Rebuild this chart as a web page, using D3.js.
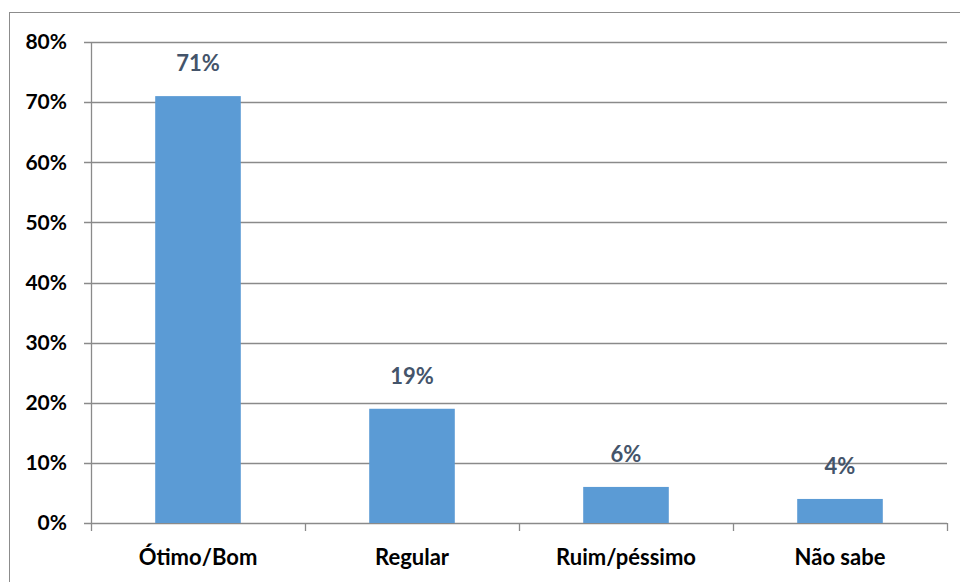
<!DOCTYPE html>
<html><head><meta charset="utf-8">
<script src="https://cdn.jsdelivr.net/npm/d3@7"></script>
<style>body{margin:0;background:#fff}svg{display:block}text{font-family:Lato,"Open Sans",sans-serif;font-weight:bold}</style>
</head><body>
<svg id="c" width="960" height="582"></svg>
<script>
const categories = ["Ótimo/Bom", "Regular", "Ruim/péssimo", "Não sabe"];
const values = [71, 19, 6, 4];
const yTicks = [0, 10, 20, 30, 40, 50, 60, 70, 80];

const svg = d3.select("#c");
svg.append("rect").attr("x", 9.5).attr("y", 12.5).attr("width", 960).attr("height", 600)
  .attr("fill", "#fff").attr("stroke", "#8c8c8c").attr("stroke-width", 1);

const m = {l: 91, r: 947, t: 42, b: 523};
const x = d3.scaleBand().domain(categories).range([m.l, m.r]).paddingInner(0.6).paddingOuter(0.3);
const y = d3.scaleLinear().domain([0, 80]).range([m.b, m.t]);

const g = svg.append("g");
g.selectAll("line.grid").data(yTicks).join("line")
  .attr("x1", m.l - 7).attr("x2", m.r)
  .attr("y1", d => Math.round(y(d)) + 0.5).attr("y2", d => Math.round(y(d)) + 0.5)
  .attr("stroke", "#8a8a8a").attr("stroke-width", 1.3);
g.append("line").attr("x1", m.l + 0.5).attr("x2", m.l + 0.5).attr("y1", m.t).attr("y2", m.b)
  .attr("stroke", "#8a8a8a").attr("stroke-width", 1.3);
g.selectAll("text.yl").data(yTicks).join("text")
  .attr("x", 67).attr("y", d => y(d)).attr("dy", "0.35em").attr("text-anchor", "end")
  .attr("font-size", 21).attr("fill", "#000").text(d => d + "%");
const bounds = d3.range(categories.length + 1).map(i => m.l + i * (m.r - m.l) / categories.length);
g.selectAll("line.ct").data(bounds).join("line")
  .attr("x1", d => Math.round(d) + 0.5).attr("x2", d => Math.round(d) + 0.5)
  .attr("y1", m.b).attr("y2", m.b + 8)
  .attr("stroke", "#8a8a8a").attr("stroke-width", 1.3);
g.selectAll("rect.bar").data(values).join("rect")
  .attr("x", (d, i) => x(categories[i])).attr("width", x.bandwidth())
  .attr("y", d => y(d)).attr("height", d => y(0) - y(d))
  .attr("fill", "#5b9bd5");
g.selectAll("text.vl").data(values).join("text")
  .attr("x", (d, i) => x(categories[i]) + x.bandwidth() / 2)
  .attr("y", d => y(d) - 25).attr("text-anchor", "middle")
  .attr("font-size", 22).attr("fill", "#44546a").text(d => d + "%");
g.selectAll("text.cl").data(categories).join("text")
  .attr("x", d => x(d) + x.bandwidth() / 2).attr("y", 565)
  .attr("text-anchor", "middle").attr("font-size", 22).attr("fill", "#000").text(d => d);
</script>
</body></html>
